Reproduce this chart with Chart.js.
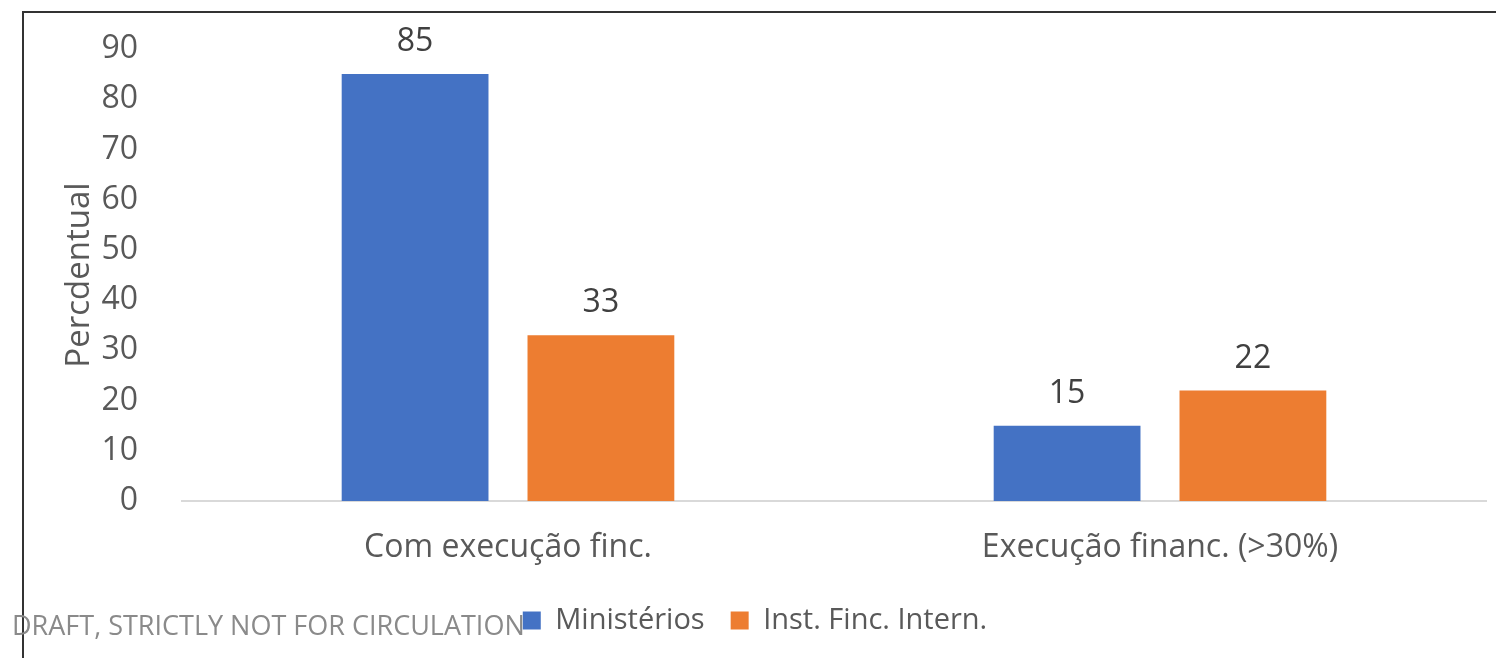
<!DOCTYPE html>
<html>
<head>
<meta charset="utf-8">
<script src="https://cdn.jsdelivr.net/npm/chart.js@4.4.1/dist/chart.umd.min.js"></script>
<style>
  html, body { margin: 0; padding: 0; background: #fff; overflow: hidden; width: 1496px; height: 658px; }
  #frame { position: absolute; left: 22px; top: 11px; width: 1530px; height: 700px;
           border-top: 2px solid #333; border-left: 2px solid #333; }
  #wrap { position: absolute; left: 0; top: 0; width: 1504px; height: 632px; }
  #draft { position: absolute; left: 12px; top: 606px; font: 27px "Open Sans", sans-serif;
           color: #8a8a8a; white-space: nowrap; }
</style>
</head>
<body>
<div id="frame"><div id="wrap"><canvas id="graph"></canvas></div></div>
<div id="draft">DRAFT, STRICTLY NOT FOR CIRCULATION</div>
<script>
const categories = ["Com execução finc.", "Execução financ. (>30%)"];
const ministerios = [85, 15];
const instFinc = [33, 22];
const yTicks = [0, 10, 20, 30, 40, 50, 60, 70, 80, 90];

const FONT = '"Open Sans", sans-serif';

// numbers above each bar
const valueLabels = {
    id: 'valueLabels',
    afterDatasetsDraw(chart) {
        const ctx = chart.ctx;
        ctx.save();
        ctx.font = '32px ' + FONT;
        ctx.fillStyle = '#404040';
        ctx.textAlign = 'center';
        ctx.textBaseline = 'middle';
        chart.data.datasets.forEach((ds, i) => {
            chart.getDatasetMeta(i).data.forEach((bar, j) => {
                ctx.fillText(ds.data[j], bar.x, bar.y - 32);
            });
        });
        ctx.restore();
    }
};

const ctx = document.getElementById('graph').getContext('2d');
const graph = new Chart(ctx, {
    type: 'bar',
    data: {
        labels: categories,
        datasets: [{
            label: 'Ministérios',
            data: ministerios,
            backgroundColor: '#4472C4',
            categoryPercentage: 0.57,
            barPercentage: 0.79
        }, {
            label: 'Inst. Finc. Intern.',
            data: instFinc,
            backgroundColor: '#ED7D31',
            categoryPercentage: 0.57,
            barPercentage: 0.79
        }]
    },
    options: {
        responsive: true,
        maintainAspectRatio: false,
        animation: false,
        layout: { padding: { top: 36, right: 42, left: 0, bottom: 0 } },
        scales: {
            y: {
                min: 0,
                max: 90,
                afterFit: s => { s.width = 158; s.paddingTop = 0; s.paddingBottom = 0; },
                afterBuildTicks: s => { s.ticks = yTicks.map(v => ({ value: v })); },
                grid: { display: false },
                border: { display: false },
                ticks: { color: '#595959', font: { size: 32, family: FONT }, padding: 36 },
                title: {
                    display: true,
                    text: 'Percdentual',
                    color: '#595959',
                    font: { size: 33, family: FONT },
                    padding: { top: 36, bottom: 0 }
                }
            },
            x: {
                afterFit: s => { s.height = 79; },
                grid: { display: false },
                border: { display: true, color: '#d9d9d9', width: 2 },
                ticks: { color: '#595959', font: { size: 32, family: FONT }, padding: 20 }
            }
        },
        plugins: {
            legend: {
                position: 'bottom',
                labels: {
                    color: '#595959',
                    font: { size: 29, family: FONT },
                    boxWidth: 18,
                    boxHeight: 18,
                    padding: 26
                }
            },
            tooltip: { enabled: false }
        }
    },
    plugins: [valueLabels]
});
</script>
</body>
</html>
